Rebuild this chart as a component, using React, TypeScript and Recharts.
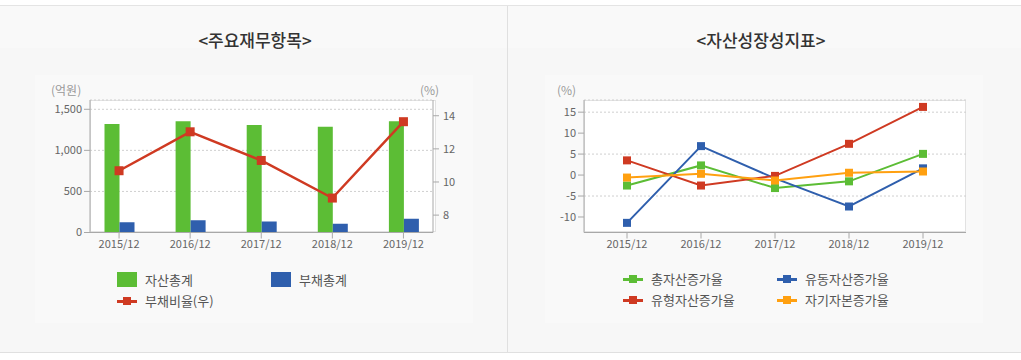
import React from 'react';
import { ComposedChart, LineChart, Bar, Line, XAxis, YAxis, CartesianGrid } from 'recharts';

const periods = ['2015/12', '2016/12', '2017/12', '2018/12', '2019/12'];
const totalAssets = [1321, 1354, 1308, 1288, 1354];
const totalDebt = [126, 150, 134, 105, 166];
const debtRatio = [10.68, 13.03, 11.3, 9.03, 13.64];

const totalAssetGrowth = [-2.5, 2.3, -3.1, -1.5, 5.05];
const currentAssetGrowth = [-11.4, 6.9, -0.8, -7.5, 1.6];
const tangibleAssetGrowth = [3.5, -2.5, -0.2, 7.45, 16.25];
const equityGrowth = [-0.6, 0.3, -1.3, 0.55, 0.85];

const amountTicks = [0, 500, 1000, 1500];
const ratioTicks = [8, 10, 12, 14];
const growthTicks = [-10, -5, 0, 5, 10, 15];

const leftData = periods.map((p, i) => ({
  period: p,
  assets: totalAssets[i],
  debt: totalDebt[i],
  ratio: debtRatio[i],
}));

const rightData = periods.map((p, i) => ({
  period: p,
  total: totalAssetGrowth[i],
  current: currentAssetGrowth[i],
  tangible: tangibleAssetGrowth[i],
  equity: equityGrowth[i],
}));

const FONT = "'Noto Sans CJK KR', 'Noto Sans', sans-serif";
const GREEN = '#5cbd35';
const BLUE = '#2f5fad';
const RED = '#cf3a22';
const ORANGE = '#ffa010';
const AXIS = '#a8a8a8';
const TICK = { fill: '#666', fontSize: 11, fontFamily: FONT };

const squareDot = (color: string, size: number) => (props: any) => {
  const { cx, cy, index } = props;
  if (cx == null || cy == null) return <g key={index} />;
  return (
    <rect key={index} x={cx - size / 2} y={cy - size / 2} width={size} height={size} fill={color} />
  );
};

const abs = (s: React.CSSProperties): React.CSSProperties => ({ position: 'absolute', ...s });

const LegendBox = ({ x, y, color, label }: { x: number; y: number; color: string; label: string }) => (
  <>
    <div style={abs({ left: x, top: y - 7.5, width: 20, height: 15, background: color })} />
    <div style={abs({ left: x + 28, top: y - 10, fontSize: 13, lineHeight: '20px', color: '#555', whiteSpace: 'nowrap' })}>{label}</div>
  </>
);

const LegendLine = ({ x, y, color, label }: { x: number; y: number; color: string; label: string }) => (
  <>
    <div style={abs({ left: x, top: y - 1.5, width: 20, height: 3, background: color })} />
    <div style={abs({ left: x + 6, top: y - 4, width: 8, height: 8, background: color })} />
    <div style={abs({ left: x + 28, top: y - 10, fontSize: 13, lineHeight: '20px', color: '#555', whiteSpace: 'nowrap' })}>{label}</div>
  </>
);

export default function App() {
  return (
    <div style={abs({ left: 0, top: 0, width: 1021, height: 360, background: '#fff', fontFamily: FONT, overflow: 'hidden' })}>
      {/* panel backgrounds */}
      <div style={abs({ left: 0, top: 5, width: 1021, height: 1, background: '#e4e4e4' })} />
      <div style={abs({ left: 0, top: 6, width: 1021, height: 346, background: '#f7f7f7' })} />
      <div style={abs({ left: 0, top: 6, width: 1021, height: 42, background: '#f9f9f9' })} />
      <div style={abs({ left: 35, top: 75, width: 438, height: 248, background: '#f9f9f9' })} />
      <div style={abs({ left: 545, top: 75, width: 438, height: 248, background: '#f9f9f9' })} />
      <div style={abs({ left: 507, top: 6, width: 1, height: 346, background: '#e0e0e0' })} />
      <div style={abs({ left: 0, top: 352, width: 1021, height: 1, background: '#e0e0e0' })} />

      {/* titles */}
      <div style={abs({ left: 0, top: 28, width: 510, textAlign: 'center', fontSize: 17, fontWeight: 500, lineHeight: '24px', color: '#333' })}>&lt;주요재무항목&gt;</div>
      <div style={abs({ left: 508, top: 28, width: 506, textAlign: 'center', fontSize: 17, fontWeight: 500, lineHeight: '24px', color: '#333' })}>&lt;자산성장성지표&gt;</div>

      {/* plot boxes */}
      <div style={abs({ left: 90, top: 100, width: 346, height: 132, background: '#fff', border: '1px solid #e2e2e2', boxSizing: 'border-box' })} />
      <div style={abs({ left: 584, top: 100, width: 382, height: 132, background: '#fff', border: '1px solid #e2e2e2', boxSizing: 'border-box' })} />

      {/* unit labels */}
      <div style={abs({ left: 51, top: 81, fontSize: 12, lineHeight: '18px', color: '#999' })}>(억원)</div>
      <div style={abs({ left: 420, top: 81, fontSize: 12, lineHeight: '18px', color: '#999' })}>(%)</div>
      <div style={abs({ left: 557, top: 81, fontSize: 12, lineHeight: '18px', color: '#999' })}>(%)</div>

      {/* left chart */}
      <div style={abs({ left: 0, top: 0 })}>
        <ComposedChart
          width={507}
          height={270}
          data={leftData}
          margin={{ top: 100, right: 31, bottom: 7.5, left: 50 }}
          barGap={0}
        >
          <CartesianGrid yAxisId="amt" vertical={false} strokeDasharray="2 2" stroke="#cfcfcf" />
          <XAxis
            dataKey="period"
            height={30}
            padding={{ left: -6.5, right: -6 }}
            tick={TICK}
            tickSize={6}
            axisLine={{ stroke: AXIS }}
            tickLine={{ stroke: AXIS }}
            interval={0}
          />
          <YAxis
            yAxisId="amt"
            width={40}
            domain={[0, 1613]}
            ticks={amountTicks}
            tickFormatter={(v: number) => v.toLocaleString('en-US')}
            tick={TICK}
            tickSize={6}
            axisLine={{ stroke: AXIS }}
            tickLine={{ stroke: AXIS }}
            allowDataOverflow
          />
          <YAxis
            yAxisId="pct"
            orientation="right"
            width={43}
            domain={[6.95, 14.95]}
            ticks={ratioTicks}
            tick={TICK}
            tickSize={6}
            tickMargin={4}
            axisLine={{ stroke: AXIS }}
            tickLine={{ stroke: AXIS }}
            allowDataOverflow
          />
          <Bar yAxisId="amt" dataKey="assets" fill={GREEN} barSize={15} isAnimationActive={false} />
          <Bar yAxisId="amt" dataKey="debt" fill={BLUE} barSize={15} isAnimationActive={false} />
          <Line
            yAxisId="pct"
            dataKey="ratio"
            stroke={RED}
            strokeWidth={2.5}
            dot={squareDot(RED, 9)}
            activeDot={false}
            isAnimationActive={false}
          />
        </ComposedChart>
      </div>

      {/* right chart */}
      <div style={abs({ left: 510, top: 0 })}>
        <LineChart
          width={511}
          height={270}
          data={rightData}
          margin={{ top: 100, right: 55, bottom: 7.5, left: 34 }}
        >
          <CartesianGrid vertical={false} strokeDasharray="2 2" stroke="#cfcfcf" />
          <XAxis
            dataKey="period"
            height={30}
            padding={{ left: 43, right: 43 }}
            tick={TICK}
            tickSize={6}
            axisLine={{ stroke: AXIS }}
            tickLine={{ stroke: AXIS }}
            interval={0}
          />
          <YAxis
            width={40}
            domain={[-13.7, 17.9]}
            ticks={growthTicks}
            tick={TICK}
            tickSize={6}
            axisLine={{ stroke: AXIS }}
            tickLine={{ stroke: AXIS }}
            allowDataOverflow
          />
          <Line dataKey="total" stroke={GREEN} strokeWidth={2} dot={squareDot(GREEN, 8)} activeDot={false} isAnimationActive={false} />
          <Line dataKey="current" stroke={BLUE} strokeWidth={2} dot={squareDot(BLUE, 8)} activeDot={false} isAnimationActive={false} />
          <Line dataKey="tangible" stroke={RED} strokeWidth={2} dot={squareDot(RED, 8)} activeDot={false} isAnimationActive={false} />
          <Line dataKey="equity" stroke={ORANGE} strokeWidth={2} dot={squareDot(ORANGE, 8)} activeDot={false} isAnimationActive={false} />
        </LineChart>
      </div>

      {/* left legend */}
      <LegendBox x={117} y={279.5} color={GREEN} label="자산총계" />
      <LegendBox x={271} y={279.5} color={BLUE} label="부채총계" />
      <LegendLine x={117} y={301} color={RED} label="부채비율(우)" />

      {/* right legend */}
      <LegendLine x={623} y={279} color={GREEN} label="총자산증가율" />
      <LegendLine x={777} y={279} color={BLUE} label="유동자산증가율" />
      <LegendLine x={623} y={300} color={RED} label="유형자산증가율" />
      <LegendLine x={777} y={300} color={ORANGE} label="자기자본증가율" />
    </div>
  );
}
